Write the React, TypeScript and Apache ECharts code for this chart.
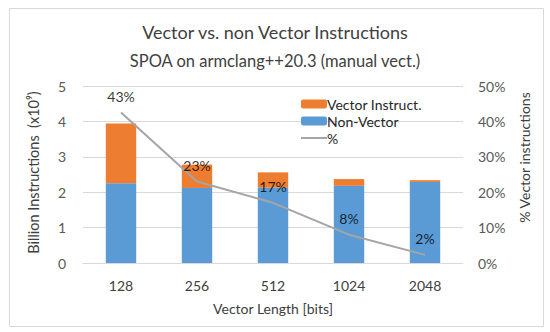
import React, { useEffect, useRef } from "react";
import * as echarts from "echarts";

const categories = ["128", "256", "512", "1024", "2048"];
const nonVector = [2.25, 2.12, 2.13, 2.18, 2.29];
const vectorInstr = [1.69, 0.66, 0.43, 0.19, 0.05];
const vectorPct = [42.5, 23, 17, 8, 2.3];
const pctLabels = ["43%", "23%", "17%", "8%", "2%"];
const leftTicks = [0, 5];
const rightTicks = [0, 50];

const FONT = "Lato, 'Open Sans', sans-serif";

export default function App() {
  const ref = useRef<HTMLDivElement>(null);
  useEffect(() => {
    if (!ref.current) return;
    const chart = echarts.init(ref.current, null, { renderer: "svg" });
    chart.setOption({
      animation: false,
      textStyle: { fontFamily: FONT },
      title: [
        {
          text: "Vector vs. non Vector Instructions",
          left: "center",
          top: 18,
          textStyle: { fontSize: 18, fontWeight: "normal", color: "#404040", fontFamily: FONT },
        },
        {
          text: "SPOA on armclang++20.3 (manual vect.)",
          left: "center",
          top: 47,
          textStyle: { fontSize: 16.5, fontWeight: "normal", color: "#404040", fontFamily: FONT },
        },
      ],
      graphic: [
        {
          type: "rect",
          shape: { x: 9.5, y: 8.5, width: 534, height: 318 },
          style: { fill: "none", stroke: "#D9D9D9", lineWidth: 1 },
          silent: true,
        },
      ],
      legend: {
        orient: "vertical",
        left: 296,
        top: 92,
        itemWidth: 26,
        itemHeight: 9,
        itemGap: 3,
        data: [
          "Vector Instruct.",
          "Non-Vector",
          { name: "%", icon: "path://M0,0H13V1H0Z" },
        ],
        textStyle: { fontSize: 14, color: "#262626", fontFamily: FONT, padding: [0, 0, 0, -5] },
      },
      grid: { left: 83, right: 87, top: 86, bottom: 69 },
      xAxis: {
        type: "category",
        data: categories,
        name: "Vector Length [bits]",
        nameLocation: "middle",
        nameGap: 38,
        nameTextStyle: { fontSize: 14, color: "#404040", fontFamily: FONT },
        axisLine: { lineStyle: { color: "#D9D9D9" } },
        axisTick: { show: false },
        axisLabel: { fontSize: 14, color: "#404040", margin: 15, fontFamily: FONT },
      },
      yAxis: [
        {
          type: "value",
          min: leftTicks[0],
          max: leftTicks[1],
          interval: 1,
          name: "Billion Instructions  (x10⁹)",
          nameLocation: "middle",
          nameGap: 42,
          nameTextStyle: { fontSize: 14.5, color: "#404040", fontFamily: FONT, padding: [0, 0, 0, 4] },
          axisLine: { show: false },
          axisTick: { show: false },
          axisLabel: { fontSize: 14, color: "#595959", margin: 17, fontFamily: FONT },
          splitLine: { lineStyle: { color: "#D9D9D9" } },
        },
        {
          type: "value",
          min: rightTicks[0],
          max: rightTicks[1],
          interval: 10,
          name: "% Vector instructions",
          nameLocation: "middle",
          nameGap: 54,
          nameTextStyle: { fontSize: 14, color: "#404040", fontFamily: FONT, padding: [0, 0, 0, 34] },
          axisLine: { show: false },
          axisTick: { show: false },
          axisLabel: { fontSize: 14, color: "#595959", margin: 15, formatter: "{value}%", fontFamily: FONT },
          splitLine: { show: false },
        },
      ],
      series: [
        {
          name: "Non-Vector",
          type: "bar",
          stack: "total",
          data: nonVector,
          barWidth: "40%",
          itemStyle: { color: "#5B9BD5" },
        },
        {
          name: "Vector Instruct.",
          type: "bar",
          stack: "total",
          data: vectorInstr,
          barWidth: "40%",
          itemStyle: { color: "#ED7D31" },
        },
        {
          name: "%",
          type: "line",
          yAxisIndex: 1,
          data: vectorPct,
          symbol: "none",
          lineStyle: { color: "#A5A5A5", width: 2 },
          itemStyle: { color: "#A5A5A5" },
          z: 5,
        },
        {
          name: "pctLabels",
          type: "scatter",
          yAxisIndex: 1,
          data: vectorPct,
          symbolSize: 0.01,
          itemStyle: { color: "rgba(0,0,0,0)" },
          z: 6,
          label: {
            show: true,
            position: "top",
            distance: 9,
            fontSize: 14,
            color: "#000000",
            fontFamily: FONT,
            formatter: (p: any) => pctLabels[p.dataIndex],
          },
        },
      ],
    });
    return () => chart.dispose();
  }, []);
  return (
    <div
      ref={ref}
      style={{ position: "fixed", left: 0, top: 0, width: 550, height: 332, background: "#fff" }}
    />
  );
}
